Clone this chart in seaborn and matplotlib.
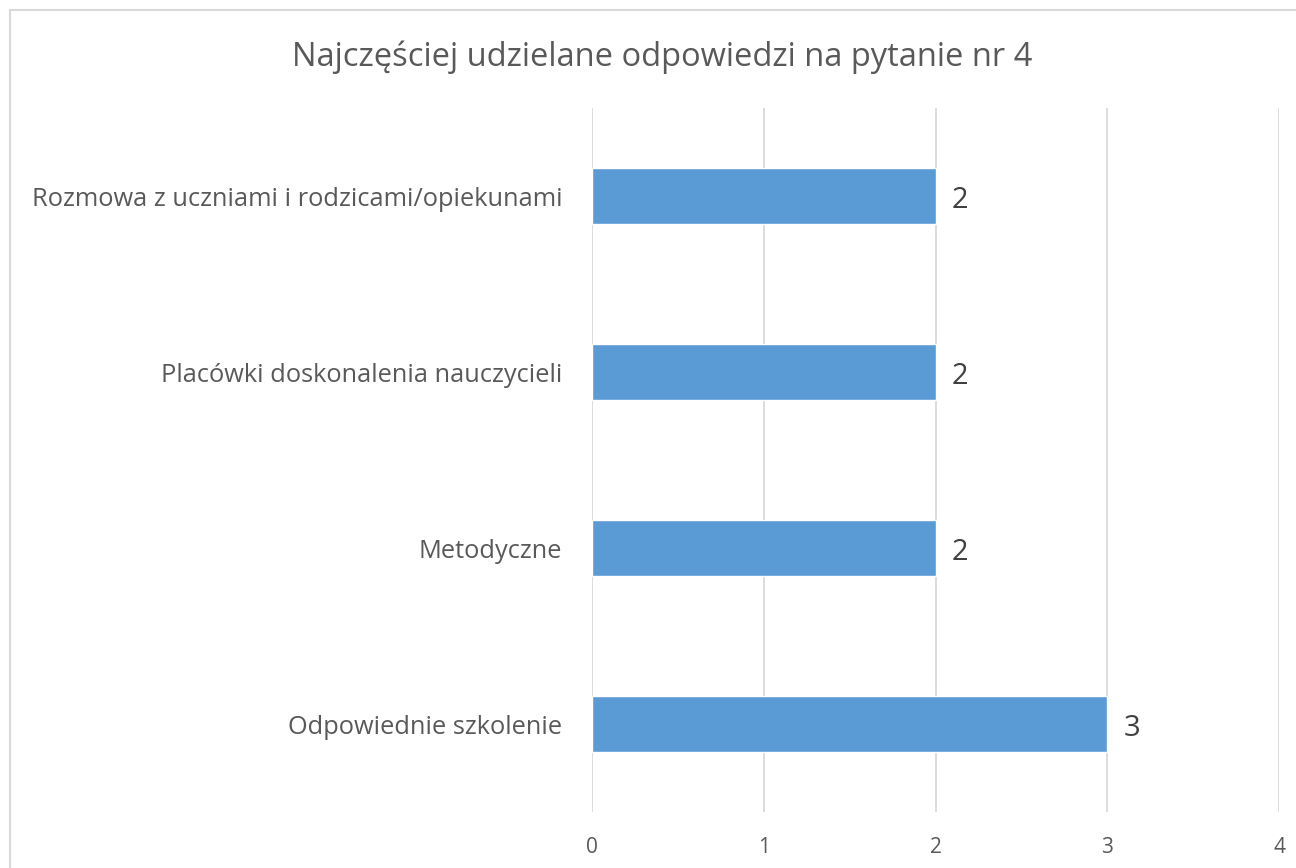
import matplotlib
matplotlib.use("Agg")
import matplotlib.pyplot as plt
import seaborn as sns
import pandas as pd
from matplotlib.patches import Rectangle

categories = ["Rozmowa z uczniami i rodzicami/opiekunami",
              "Placówki doskonalenia nauczycieli",
              "Metodyczne",
              "Odpowiednie szkolenie"]
values = [2, 2, 2, 3]
xticks = [0, 1, 2, 3, 4]
title = "Najczęściej udzielane odpowiedzi na pytanie nr 4"

sns.set_theme(style="white")
plt.rcParams['font.family'] = ['Open Sans', 'DejaVu Sans']

df = pd.DataFrame({"cat": categories, "val": values})

fig = plt.figure(figsize=(12.96, 8.68), dpi=100)
fig.patches.append(Rectangle((10/1296, -0.1), 1.2, (868-10)/868 + 0.1,
                             transform=fig.transFigure, fill=False,
                             edgecolor="#D9D9D9", linewidth=1.5))
ax = fig.add_axes([592/1296, 56/868, 687/1296, 704/868])
sns.barplot(data=df, x="val", y="cat", ax=ax, color="#5B9BD5",
            width=0.315, saturation=1, orient="h")
ax.set_xlim(0, 4)
ax.set_xticks(xticks)
ax.set_xticklabels([str(t) for t in xticks], fontsize=15, color="#595959")
ax.tick_params(axis="y", labelsize=18.3, colors="#595959", length=0, pad=21.5)
ax.tick_params(axis="x", length=0, pad=18)
for lbl in ax.get_yticklabels():
    lbl.set_color("#595959")
ax.set_xlabel("")
ax.set_ylabel("")
for s in ax.spines.values():
    s.set_visible(False)
ax.grid(axis="x", color="#D9D9D9", linewidth=1.3)
ax.set_axisbelow(True)
for c in ax.containers:
    anns = ax.bar_label(c, labels=[str(v) for v in values], padding=11,
                        fontsize=21, color="#404040")
    for a in anns:
        a.xyann = (11.5, -3)
fig.text(0.5 + 14/1296, 1 - 57/868, title, ha="center", va="center",
         fontsize=23.5, color="#595959")
fig.savefig("out.png", dpi=100)
